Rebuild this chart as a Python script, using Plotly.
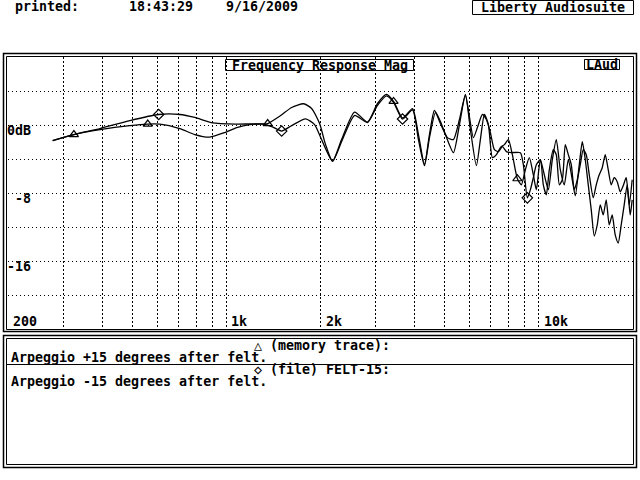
import math
import plotly.graph_objects as go

# ---------------- data ----------------
# Trace with triangle markers: memory trace (Arpeggio +15 degrees after felt)
freq_a = [278, 325, 394, 491, 560, 612, 709, 792, 884, 987, 1079, 1187, 1306, 1355, 1491, 1617,
          1766, 1873, 1987, 2076, 2186, 2336, 2570, 2828, 3044, 3254, 3426, 3660, 3940, 4116,
          4302, 4464, 4630, 4840, 5022, 5326, 5568, 5818, 6036, 6308, 6496, 6691, 6891, 7098,
          7310, 7529, 7753, 7985, 8222, 8531, 8786, 9048, 9318, 9596, 9812, 10104, 10404, 10717,
          11037, 11365, 11706, 12056, 12415, 12786, 13072, 13462, 13764, 14072, 14383, 14704,
          15033, 15369, 15711, 16062, 16417, 16785, 17160, 17544, 17935, 18336, 18745, 19166,
          19589, 19880]
db_a = [-1.80, -1.09, -0.51, -0.04, 0.14, 0.13, -0.39, -1.09, -1.39, -0.86, -0.27, 0.08, 0.16,
        0.20, 1.14, 2.08, 2.52, 1.96, 0.20, -2.27, -4.21, -1.68, 1.55, 0.38, 2.55, 3.61, 2.79,
        0.85, 1.96, -1.09, -4.62, -1.09, 1.73, 0.44, -1.09, -3.21, 0.08, 3.61, -0.51, -4.74,
        -1.68, 1.26, 0.08, -3.80, -3.45, -2.62, -2.27, -1.68, -3.45, -6.27, -6.98, -5.21, -3.80,
        -5.80, -7.56, -4.04, -5.80, -7.56, -4.04, -1.68, -5.21, -6.98, -4.04, -6.39, -8.27,
        -4.62, -1.92, -4.04, -6.98, -9.92, -12.98, -11.68, -9.33, -10.51, -8.74, -11.68, -10.51,
        -12.86, -13.80, -11.68, -9.33, -6.98, -10.51, -8.74]

# Trace with diamond markers: file FELT-15 (Arpeggio -15 degrees after felt)
freq_b = [278, 325, 394, 491, 607, 709, 792, 904, 1079, 1306, 1396, 1502, 1617, 1792, 1915, 2016,
          2186, 2336, 2570, 2828, 3044, 3254, 3426, 3660, 3940, 4116, 4302, 4464, 4664, 4840,
          5096, 5326, 5568, 5818, 6170, 6355, 6593, 6790, 6994, 7203, 7419, 7640, 7868, 8162,
          8722, 8916, 9182, 9389, 9596, 9812, 10104, 10328, 10560, 10796, 11118, 11365, 11620,
          11880, 12145, 12415, 12692, 12976, 13266, 13561, 13866, 14173, 14490, 14922, 15256,
          15596, 15944, 16300, 16662, 17034, 17415, 17804, 18201, 18608, 19024, 19450, 19880]
db_b = [-1.80, -1.09, -0.39, 0.55, 1.26, 1.26, 0.91, 0.28, 0.14, 0.14, -0.15, -0.68, -0.04, 0.75,
        0.08, -1.68, -4.21, -1.92, 1.14, 0.32, 2.32, 3.44, 2.67, 0.73, 1.79, -1.68, -4.74, -1.45,
        1.49, 0.20, -1.45, -1.68, 0.67, 3.49, -1.45, -0.27, 1.26, 0.67, -0.86, -2.86, -3.09,
        -2.51, -3.09, -3.21, -3.21, -4.62, -8.51, -7.56, -6.15, -4.62, -4.04, -6.98, -8.15,
        -5.21, -2.86, -3.45, -6.98, -6.39, -2.27, -3.45, -4.62, -7.56, -6.39, -4.62, -2.86,
        -3.45, -5.80, -8.51, -6.98, -5.80, -4.98, -3.45, -5.21, -6.98, -6.15, -6.62, -7.80,
        -7.09, -6.15, -9.33, -6.39]

tri_freq = [325, 560, 1355, 3426, 8531]
tri_db = [-1.09, 0.14, 0.20, 2.79, -6.27]
dia_freq = [607, 1502, 3660, 9182]
dia_db = [1.26, -0.68, 0.73, -8.51]

x_range_hz = [200, 20000]
y_range_db = [-24, 8]
grid_freqs = [300, 400, 500, 600, 700, 800, 900, 1000, 2000, 3000, 4000, 5000, 6000, 7000,
              8000, 9000, 10000]
grid_db = [4, 0, -4, -8, -12, -16, -20]
ylab_vals = [0, -8, -16]
ylab_text = ["0dB", "-8", "-16"]
xlab_vals = [200, 1000, 2000, 10000]
xlab_text = ["200", "1k", "2k", "10k"]

title_text = "Frequency Response Mag"
brand_text = "Liberty Audiosuite"
corner_text = "LAud"
header_texts = ["printed:", "18:43:29", "9/16/2009"]
legend_head_a = "\u25b3 (memory trace):"
legend_desc_a = "Arpeggio +15 degrees after felt."
legend_head_b = "\u25c7 (file) FELT-15:"
legend_desc_b = "Arpeggio -15 degrees after felt."

# ---------------- layout helpers (pixel -> paper) ----------------
W, H = 640, 480
L, R, T, B = 8, 633, 57, 330


def px(x):
    return (x - L) / (R - L)


def py(y):
    return (B - y) / (B - T)


FONT = "DejaVu Sans Mono"
FS = 13.3

fig = go.Figure()
fig.add_trace(go.Scatter(x=freq_a, y=db_a, mode="lines",
                         line=dict(color="black", width=1.3, shape="spline", smoothing=0.6),
                         hoverinfo="skip", showlegend=False))
fig.add_trace(go.Scatter(x=freq_b, y=db_b, mode="lines",
                         line=dict(color="black", width=1.3, shape="spline", smoothing=0.6),
                         hoverinfo="skip", showlegend=False))
fig.add_trace(go.Scatter(x=tri_freq, y=tri_db, mode="markers",
                         marker=dict(symbol="triangle-up-open", size=8,
                                     color="black", line=dict(color="black", width=1.2)),
                         showlegend=False))
fig.add_trace(go.Scatter(x=dia_freq, y=dia_db, mode="markers",
                         marker=dict(symbol="diamond-open", size=8,
                                     color="black", line=dict(color="black", width=1.2)),
                         showlegend=False))

shapes = []


def rect(x0, y0, x1, y1, w=1):
    shapes.append(dict(type="rect", xref="paper", yref="paper",
                       x0=px(x0), x1=px(x1), y0=py(y0), y1=py(y1),
                       line=dict(color="black", width=w), fillcolor="rgba(0,0,0,0)",
                       layer="above"))


def hline(x0, x1, y, w=1):
    shapes.append(dict(type="line", xref="paper", yref="paper",
                       x0=px(x0), x1=px(x1), y0=py(y), y1=py(y),
                       line=dict(color="black", width=w), layer="above"))


# chart panel double border
rect(3.5, 53.5, 636.5, 331.5, 1.5)
rect(6.5, 56.5, 633.5, 329.5, 1)
# legend panel double border + divider
rect(3.5, 335.5, 636.5, 467.5, 1.5)
rect(6.5, 338.5, 633.5, 464.5, 1)
hline(6.5, 633.5, 364.5)
# title boxes
rect(225.5, 59.5, 413.5, 70.5, 1)
rect(584.5, 59.5, 619.5, 69.5, 1)
rect(472.5, 0.5, 633.5, 14.5, 1)

ann = []


def text(x, y, s, anchor="left", size=FS):
    ann.append(dict(text=s, xref="paper", yref="paper", x=px(x), y=py(y),
                    xanchor=anchor, yanchor="middle", showarrow=False,
                    font=dict(family=FONT, size=size, color="black", weight="bold")))


text(13, 7, header_texts[0])
text(127, 7, header_texts[1])
text(224, 7, header_texts[2])
text(553, 8, brand_text, anchor="center")
text(319.5, 65, title_text, anchor="center")
text(602, 64.5, corner_text, anchor="center")
text(322, 345.5, legend_head_a, anchor="center")
text(9, 357, legend_desc_a)
text(322, 369.5, legend_head_b, anchor="center")
text(9, 381, legend_desc_b)

for v, s in zip(ylab_vals, ylab_text):
    ann.append(dict(text=s, xref="paper", yref="y", x=px(33), y=v, yshift=-5,
                    xanchor="right", yanchor="middle", showarrow=False,
                    font=dict(family=FONT, size=FS, color="black", weight="bold")))
for v, s in zip(xlab_vals, xlab_text):
    ann.append(dict(text=s, xref="x", yref="paper", x=math.log10(v), y=py(321.5), xshift=3,
                    xanchor="left", yanchor="middle", showarrow=False,
                    font=dict(family=FONT, size=FS, color="black", weight="bold")))

fig.update_layout(
    width=W, height=H, autosize=False,
    margin=dict(l=L, r=W - R, t=T, b=H - B, pad=0),
    paper_bgcolor="white", plot_bgcolor="white",
    shapes=shapes, annotations=ann,
    xaxis=dict(type="log", range=[math.log10(x_range_hz[0]), math.log10(x_range_hz[1])],
               tickvals=grid_freqs, showticklabels=False, ticks="",
               showgrid=True, gridcolor="black", gridwidth=1, griddash="2px,2px",
               zeroline=False, showline=False, fixedrange=True),
    yaxis=dict(range=y_range_db, tickvals=grid_db, showticklabels=False, ticks="",
               showgrid=True, gridcolor="black", gridwidth=1, griddash="1px,3px",
               zeroline=False, showline=False, fixedrange=True),
)

fig.write_html("out.html", config={"displayModeBar": False},
               post_script="document.body.style.margin='0';document.body.style.padding='0';")
